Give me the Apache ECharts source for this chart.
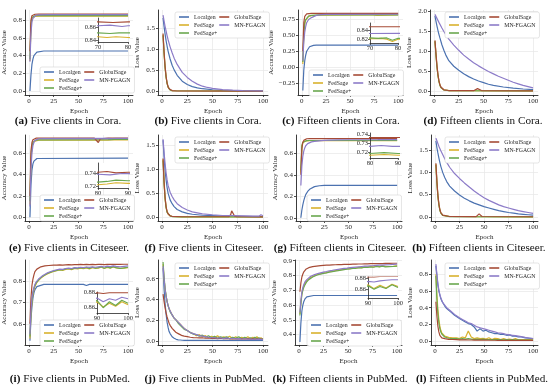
<!DOCTYPE html>
<html><head><meta charset="utf-8">
<script src="https://cdn.jsdelivr.net/npm/echarts@6/dist/echarts.min.js"></script>
<style>html,body{margin:0;padding:0;background:#fff}#c{width:550px;height:385px}</style>
</head><body><div id="c"></div>
<script>
const NAMES = ['Localgen','FedSage','FedSage+','GlobalSage','MN-FGAGN'];
const X_TICKS = [0,25,50,75,100];
const CAPTIONS = [
 ['(a)','Five clients in Cora.'],['(b)','Five clients in Cora.'],['(c)','Fifteen clients in Cora.'],['(d)','Fifteen clients in Cora.'],
 ['(e)','Five clients in Citeseer.'],['(f)','Five clients in Citeseer.'],['(g)','Fifteen clients in Citeseer.'],['(h)','Fifteen clients in Citeseer.'],
 ['(i)','Five clients in PubMed.'],['(j)','Five clients in PubMed.'],['(k)','Fifteen clients in PubMed.'],['(l)','Fifteen clients in PubMed.']
];
const Y_TICKS = {
 a:[0,0.2,0.4,0.6,0.8], b:[0,0.5,1.0,1.5], c:[-0.25,0,0.25,0.5,0.75], d:[0,0.5,1.0,1.5,2.0],
 e:[0,0.2,0.4,0.6], f:[0,0.5,1.0,1.5], g:[0,0.2,0.4,0.6], h:[0,0.5,1.0,1.5],
 i:[0.6,0.7,0.8], j:[0,0.2,0.4,0.6], k:[0.4,0.5,0.6,0.7,0.8,0.9], l:[0,0.2,0.4,0.6,0.8]
};
const INSET_TICKS = {
 a:{x:[70,80], y:[0.84,0.86]}, c:{x:[70,80], y:[0.82,0.84]}, e:{x:[80,90], y:[0.72,0.74]},
 g:{x:[80,90], y:[0.72,0.73,0.74]}, i:{x:[90,100], y:[0.86,0.88]}, k:{x:[90,100], y:[0.86,0.88]}
};

// ---- (a) Five clients in Cora, accuracy ----
const a_Localgen = [[1,0.0],[2,0.18],[3,0.3],[4,0.36],[5,0.4],[6,0.42],[8,0.44],[10,0.448],[15,0.452],[100,0.452]];
const a_FedSage = [[1,0.34],[2,0.72],[3,0.82],[4,0.838],[6,0.844],[10,0.846],[70,0.846],[73,0.845],[76,0.846],[80,0.845],[100,0.846]];
const a_FedSagePlus = [[1,0.36],[2,0.75],[3,0.83],[4,0.845],[6,0.85],[10,0.852],[70,0.852],[74,0.851],[77,0.852],[80,0.852],[100,0.852]];
const a_GlobalSage = [[1,0.45],[2,0.8],[3,0.85],[4,0.862],[6,0.867],[10,0.869],[70,0.869],[75,0.868],[80,0.869],[100,0.869]];
const a_MNFGAGN = [[1,0.33],[2,0.65],[3,0.78],[4,0.82],[5,0.84],[7,0.855],[10,0.861],[20,0.863],[70,0.863],[74,0.864],[78,0.862],[80,0.863],[100,0.863]];
// ---- (b) Five clients in Cora, loss ----
const b_Localgen = [[1,1.75],[2,1.55],[3,1.37],[4,1.21],[5,1.08],[6,0.96],[8,0.77],[10,0.62],[12,0.51],[15,0.38],[20,0.24],[25,0.16],[30,0.11],[35,0.08],[40,0.06],[50,0.035],[60,0.02],[80,0.01],[100,0.005]];
const b_FedSage = [[1,1.35],[2,0.92],[3,0.58],[4,0.34],[5,0.19],[6,0.1],[8,0.03],[10,0.012],[100,0.001]];
const b_FedSagePlus = [[1,1.33],[2,0.9],[3,0.56],[4,0.33],[5,0.18],[6,0.1],[8,0.03],[10,0.012],[100,0.001]];
const b_GlobalSage = [[1,1.38],[2,0.95],[3,0.6],[4,0.36],[5,0.2],[6,0.11],[7,0.06],[8,0.035],[10,0.015],[15,0.005],[100,0.001]];
const b_MNFGAGN = [[1,1.82],[2,1.68],[3,1.55],[4,1.44],[5,1.33],[6,1.23],[8,1.06],[10,0.92],[12,0.79],[15,0.64],[20,0.45],[25,0.33],[30,0.24],[35,0.17],[40,0.12],[45,0.09],[50,0.07],[60,0.04],[70,0.025],[80,0.015],[100,0.008]];
// ---- (c) Fifteen clients in Cora, accuracy ----
const c_Localgen = [[1,-0.37],[2,-0.05],[3,0.1],[4,0.19],[5,0.25],[6,0.28],[8,0.32],[10,0.335],[12,0.342],[15,0.345],[100,0.346]];
const c_FedSage = [[1,0.05],[2,0.5],[3,0.68],[4,0.74],[5,0.77],[7,0.8],[10,0.81],[15,0.817],[20,0.82],[70,0.821],[74,0.822],[76,0.82],[78,0.815],[80,0.82],[100,0.821]];
const c_FedSagePlus = [[1,0.08],[2,0.52],[3,0.7],[4,0.75],[5,0.78],[7,0.805],[10,0.815],[15,0.82],[20,0.822],[70,0.823],[73,0.822],[76,0.823],[78,0.818],[80,0.822],[100,0.823]];
const c_GlobalSage = [[1,0.25],[2,0.7],[3,0.8],[4,0.83],[5,0.84],[7,0.845],[10,0.847],[100,0.847]];
const c_MNFGAGN = [[1,0.1],[2,0.4],[3,0.55],[4,0.64],[5,0.7],[6,0.73],[7,0.75],[10,0.78],[12,0.8],[15,0.815],[20,0.826],[25,0.83],[30,0.832],[100,0.833]];
// ---- (d) Fifteen clients in Cora, loss ----
const d_Localgen = [[1,1.88],[2,1.75],[3,1.63],[4,1.52],[5,1.42],[6,1.33],[8,1.16],[10,1.02],[12,0.9],[15,0.76],[20,0.62],[25,0.52],[30,0.43],[35,0.36],[40,0.3],[45,0.25],[50,0.21],[55,0.17],[60,0.14],[70,0.1],[80,0.07],[90,0.05],[100,0.035]];
const d_FedSage = [[1,1.25],[2,0.92],[3,0.62],[4,0.4],[5,0.25],[6,0.15],[7,0.09],[8,0.055],[10,0.028],[12,0.018],[15,0.011],[20,0.009],[100,0.004]];
const d_FedSagePlus = [[1,1.24],[2,0.9],[3,0.6],[4,0.39],[5,0.24],[6,0.14],[7,0.085],[8,0.05],[10,0.026],[12,0.017],[15,0.01],[20,0.008],[100,0.004]];
const d_GlobalSage = [[1,1.27],[2,0.95],[3,0.65],[4,0.42],[5,0.26],[6,0.16],[7,0.1],[8,0.06],[10,0.03],[12,0.02],[15,0.012],[20,0.01],[40,0.008],[42,0.012],[44,0.06],[45,0.07],[46,0.05],[48,0.012],[50,0.008],[100,0.005]];
const d_MNFGAGN = [[1,1.92],[2,1.87],[3,1.82],[4,1.77],[5,1.72],[6,1.67],[8,1.58],[10,1.49],[12,1.41],[15,1.3],[20,1.15],[25,1.02],[30,0.9],[35,0.8],[40,0.71],[45,0.63],[50,0.56],[55,0.49],[60,0.43],[65,0.37],[70,0.32],[75,0.27],[80,0.22],[85,0.18],[90,0.14],[95,0.11],[100,0.08]];
// ---- (e) Five clients in Citeseer, accuracy ----
const e_Localgen = [[1,0.0],[2,0.3],[3,0.44],[4,0.5],[5,0.525],[6,0.54],[8,0.55],[10,0.553],[100,0.553]];
const e_FedSage = [[1,0.12],[2,0.52],[3,0.65],[4,0.69],[5,0.71],[7,0.718],[10,0.722],[80,0.722],[83,0.723],[86,0.725],[90,0.724],[100,0.724]];
const e_FedSagePlus = [[1,0.15],[2,0.55],[3,0.66],[4,0.7],[5,0.715],[7,0.722],[10,0.725],[80,0.726],[83,0.727],[86,0.729],[90,0.728],[100,0.728]];
const e_GlobalSage = [[1,0.2],[2,0.62],[3,0.7],[4,0.725],[5,0.735],[7,0.74],[10,0.741],[66,0.741],[68,0.735],[70,0.7],[72,0.735],[74,0.741],[80,0.741],[83,0.742],[86,0.74],[90,0.741],[100,0.741]];
const e_MNFGAGN = [[1,0.1],[2,0.45],[3,0.6],[4,0.67],[5,0.7],[6,0.72],[8,0.73],[10,0.735],[15,0.737],[80,0.738],[84,0.737],[88,0.739],[100,0.738]];
// ---- (f) Five clients in Citeseer, loss ----
const f_Localgen = [[1,1.6],[2,1.25],[3,0.98],[4,0.78],[5,0.62],[6,0.5],[8,0.36],[10,0.28],[12,0.22],[15,0.16],[20,0.11],[25,0.08],[30,0.06],[40,0.04],[50,0.03],[60,0.02],[80,0.015],[100,0.01]];
const f_FedSage = [[1,1.2],[2,0.72],[3,0.4],[4,0.21],[5,0.11],[6,0.065],[8,0.028],[10,0.014],[20,0.007],[100,0.005]];
const f_FedSagePlus = [[1,1.18],[2,0.7],[3,0.38],[4,0.2],[5,0.1],[6,0.06],[8,0.025],[10,0.013],[20,0.007],[100,0.005]];
const f_GlobalSage = [[1,1.22],[2,0.75],[3,0.42],[4,0.22],[5,0.12],[6,0.07],[8,0.03],[10,0.015],[20,0.008],[66,0.008],[68,0.05],[69,0.13],[70,0.09],[72,0.02],[74,0.008],[100,0.006]];
const f_MNFGAGN = [[1,1.62],[2,1.35],[3,1.12],[4,0.93],[5,0.78],[6,0.66],[8,0.52],[10,0.43],[12,0.36],[15,0.28],[20,0.2],[25,0.15],[30,0.11],[35,0.09],[40,0.07],[50,0.05],[60,0.035],[70,0.03],[80,0.025],[90,0.02],[96,0.02],[98,0.05],[100,0.03]];
// ---- (g) Fifteen clients in Citeseer, accuracy ----
const g_Localgen = [[1,0.0],[2,0.07],[3,0.12],[4,0.16],[5,0.19],[6,0.215],[8,0.245],[10,0.265],[12,0.278],[15,0.29],[20,0.298],[25,0.301],[100,0.302]];
const g_FedSage = [[1,0.42],[2,0.66],[3,0.7],[4,0.71],[5,0.714],[7,0.716],[10,0.717],[80,0.717],[85,0.718],[90,0.717],[100,0.717]];
const g_FedSagePlus = [[1,0.44],[2,0.67],[3,0.703],[4,0.712],[5,0.716],[7,0.718],[10,0.719],[80,0.719],[85,0.72],[90,0.719],[100,0.719]];
const g_GlobalSage = [[1,0.4],[2,0.64],[3,0.7],[4,0.72],[5,0.73],[7,0.735],[10,0.737],[42,0.737],[44,0.728],[46,0.737],[100,0.737]];
const g_MNFGAGN = [[1,0.3],[2,0.48],[3,0.57],[4,0.62],[5,0.65],[6,0.67],[8,0.69],[10,0.7],[12,0.706],[15,0.711],[20,0.716],[25,0.72],[30,0.723],[40,0.725],[50,0.726],[80,0.727],[84,0.728],[88,0.727],[100,0.727]];
// ---- (h) Fifteen clients in Citeseer, loss ----
const h_Localgen = [[1,1.7],[2,1.55],[3,1.43],[4,1.32],[5,1.22],[6,1.13],[8,0.99],[10,0.88],[12,0.79],[15,0.69],[20,0.58],[25,0.49],[30,0.42],[35,0.36],[40,0.31],[45,0.27],[50,0.23],[55,0.2],[60,0.17],[65,0.14],[70,0.12],[75,0.1],[80,0.085],[85,0.07],[90,0.06],[95,0.05],[100,0.04]];
const h_FedSage = [[1,1.18],[2,0.78],[3,0.48],[4,0.28],[5,0.16],[6,0.09],[7,0.055],[8,0.035],[10,0.018],[15,0.01],[100,0.004]];
const h_FedSagePlus = [[1,1.16],[2,0.76],[3,0.46],[4,0.27],[5,0.15],[6,0.085],[7,0.05],[8,0.033],[10,0.017],[15,0.009],[100,0.004]];
const h_GlobalSage = [[1,1.2],[2,0.8],[3,0.5],[4,0.3],[5,0.17],[6,0.1],[7,0.06],[8,0.04],[10,0.02],[15,0.01],[42,0.008],[44,0.05],[45,0.07],[46,0.05],[48,0.01],[100,0.005]];
const h_MNFGAGN = [[1,1.76],[2,1.7],[3,1.64],[4,1.58],[5,1.53],[6,1.48],[8,1.39],[10,1.3],[12,1.22],[15,1.11],[20,0.97],[25,0.86],[30,0.76],[35,0.67],[40,0.58],[45,0.5],[50,0.43],[55,0.37],[60,0.32],[65,0.27],[70,0.23],[75,0.2],[80,0.17],[85,0.14],[90,0.12],[95,0.1],[100,0.08]];
// ---- PubMed rows: shared epoch samples ----
const PUBMED_EPOCHS = [1,2,3,4,5,6,7,8,10,12,14,16,18,20,22,25,28,31,34,37,40,43,46,49,52,55,58,61,64,67,70,73,76,79,82,85,88,90,92,94,96,98,100];
// ---- (i) Five clients in PubMed, accuracy ----
const i_Localgen = [[1,0.52],[2,0.62],[3,0.68],[4,0.72],[5,0.745],[6,0.76],[8,0.775],[10,0.782],[15,0.785],[55,0.785],[58,0.78],[61,0.785],[100,0.785]];
const i_FedSage = [0.53,0.64,0.7,0.74,0.76,0.775,0.785,0.795,0.805,0.815,0.822,0.828,0.832,0.838,0.842,0.846,0.85,0.853,0.851,0.856,0.858,0.855,0.86,0.858,0.862,0.859,0.863,0.858,0.864,0.861,0.862,0.866,0.86,0.865,0.862,0.867,0.863,0.868,0.861,0.866,0.862,0.868,0.864];
const i_FedSagePlus = [0.54,0.65,0.71,0.745,0.765,0.78,0.79,0.798,0.808,0.817,0.824,0.83,0.835,0.84,0.843,0.848,0.851,0.855,0.853,0.858,0.86,0.857,0.862,0.86,0.864,0.861,0.865,0.86,0.866,0.862,0.864,0.868,0.861,0.867,0.863,0.869,0.864,0.87,0.86,0.868,0.863,0.87,0.866];
const i_GlobalSage = [0.6,0.72,0.78,0.81,0.83,0.845,0.852,0.857,0.864,0.868,0.87,0.872,0.873,0.874,0.875,0.876,0.876,0.877,0.876,0.877,0.878,0.877,0.878,0.878,0.879,0.878,0.879,0.878,0.879,0.878,0.879,0.879,0.878,0.879,0.879,0.88,0.879,0.88,0.879,0.88,0.88,0.88,0.88];
const i_MNFGAGN = [0.55,0.66,0.72,0.75,0.77,0.785,0.795,0.802,0.812,0.82,0.827,0.833,0.838,0.842,0.846,0.85,0.854,0.857,0.856,0.86,0.862,0.86,0.864,0.863,0.866,0.864,0.867,0.865,0.868,0.866,0.868,0.87,0.867,0.871,0.869,0.872,0.87,0.873,0.868,0.872,0.87,0.874,0.872];
// ---- (j) Five clients in PubMed, loss ----
const j_Localgen = [0.7,0.5,0.36,0.26,0.18,0.13,0.09,0.07,0.04,0.025,0.015,0.01,0.008,0.006,0.005,0.005,0.004,0.004,0.004,0.004,0.004,0.004,0.004,0.004,0.004,0.004,0.004,0.004,0.004,0.004,0.004,0.004,0.004,0.004,0.004,0.004,0.004,0.004,0.004,0.004,0.004,0.004,0.004];
const j_FedSage = [0.74,0.6,0.5,0.43,0.38,0.34,0.31,0.29,0.25,0.22,0.2,0.18,0.16,0.14,0.12,0.1,0.08,0.07,0.05,0.06,0.04,0.05,0.03,0.045,0.03,0.05,0.025,0.04,0.03,0.045,0.02,0.04,0.025,0.035,0.02,0.04,0.02,0.035,0.02,0.04,0.02,0.03,0.015];
const j_FedSagePlus = [0.76,0.62,0.51,0.44,0.38,0.34,0.31,0.28,0.25,0.22,0.2,0.17,0.15,0.13,0.11,0.1,0.08,0.065,0.06,0.045,0.055,0.035,0.05,0.03,0.045,0.025,0.04,0.03,0.04,0.02,0.035,0.025,0.04,0.02,0.035,0.02,0.03,0.02,0.035,0.02,0.03,0.015,0.02];
const j_GlobalSage = [0.45,0.38,0.32,0.27,0.23,0.2,0.17,0.15,0.12,0.1,0.08,0.07,0.06,0.05,0.045,0.04,0.035,0.032,0.03,0.028,0.03,0.025,0.028,0.024,0.026,0.022,0.025,0.02,0.024,0.02,0.022,0.02,0.018,0.02,0.018,0.02,0.017,0.019,0.016,0.018,0.016,0.017,0.015];
const j_MNFGAGN = [0.72,0.6,0.5,0.43,0.38,0.34,0.31,0.29,0.25,0.22,0.2,0.18,0.16,0.14,0.12,0.1,0.08,0.07,0.06,0.05,0.045,0.04,0.035,0.03,0.03,0.025,0.03,0.022,0.028,0.02,0.025,0.02,0.022,0.018,0.02,0.016,0.018,0.015,0.018,0.014,0.016,0.015,0.012];
// ---- (k) Fifteen clients in PubMed, accuracy ----
const k_Localgen = [[1,0.35],[2,0.48],[3,0.56],[4,0.6],[5,0.625],[6,0.64],[8,0.655],[10,0.662],[15,0.665],[100,0.665]];
const k_FedSage = [0.54,0.62,0.68,0.71,0.73,0.745,0.755,0.765,0.778,0.788,0.795,0.8,0.806,0.81,0.812,0.818,0.82,0.826,0.828,0.834,0.835,0.84,0.842,0.846,0.847,0.851,0.85,0.855,0.854,0.858,0.857,0.861,0.858,0.863,0.86,0.866,0.862,0.868,0.861,0.867,0.862,0.869,0.865];
const k_FedSagePlus = [0.53,0.61,0.67,0.7,0.72,0.735,0.748,0.758,0.772,0.783,0.79,0.797,0.802,0.807,0.81,0.815,0.818,0.823,0.826,0.83,0.833,0.837,0.84,0.843,0.845,0.848,0.849,0.852,0.852,0.856,0.855,0.859,0.856,0.861,0.858,0.864,0.859,0.866,0.86,0.865,0.861,0.868,0.863];
const k_GlobalSage = [0.69,0.75,0.79,0.81,0.825,0.835,0.842,0.847,0.853,0.857,0.86,0.862,0.864,0.866,0.867,0.869,0.87,0.871,0.872,0.873,0.874,0.874,0.875,0.876,0.876,0.877,0.877,0.878,0.878,0.879,0.879,0.88,0.88,0.88,0.881,0.881,0.882,0.882,0.882,0.883,0.883,0.883,0.883];
const k_MNFGAGN = [0.55,0.63,0.69,0.72,0.74,0.755,0.765,0.772,0.785,0.795,0.8,0.806,0.81,0.815,0.818,0.823,0.827,0.832,0.835,0.839,0.842,0.845,0.848,0.85,0.853,0.855,0.857,0.859,0.861,0.863,0.864,0.866,0.867,0.869,0.87,0.871,0.872,0.874,0.873,0.875,0.876,0.877,0.877];
// ---- (l) Fifteen clients in PubMed, loss ----
const l_Localgen = [0.9,0.78,0.67,0.6,0.55,0.51,0.48,0.46,0.42,0.39,0.37,0.35,0.33,0.31,0.3,0.27,0.25,0.23,0.21,0.2,0.17,0.12,0.15,0.12,0.13,0.11,0.1,0.09,0.09,0.08,0.08,0.07,0.075,0.06,0.06,0.05,0.05,0.045,0.04,0.04,0.035,0.03,0.03];
const l_FedSage = [0.8,0.55,0.38,0.26,0.18,0.13,0.1,0.08,0.06,0.05,0.045,0.04,0.04,0.035,0.04,0.03,0.05,0.04,0.12,0.05,0.03,0.04,0.03,0.035,0.025,0.04,0.02,0.035,0.03,0.02,0.03,0.02,0.025,0.02,0.03,0.015,0.02,0.015,0.02,0.015,0.02,0.015,0.015];
const l_FedSagePlus = [0.78,0.5,0.33,0.22,0.15,0.11,0.085,0.07,0.05,0.04,0.035,0.03,0.03,0.028,0.03,0.025,0.03,0.025,0.03,0.025,0.02,0.025,0.02,0.025,0.02,0.02,0.018,0.02,0.018,0.02,0.015,0.018,0.015,0.018,0.015,0.015,0.014,0.015,0.013,0.014,0.013,0.013,0.012];
const l_GlobalSage = [0.47,0.3,0.18,0.11,0.07,0.05,0.04,0.035,0.03,0.025,0.022,0.02,0.02,0.018,0.018,0.016,0.015,0.015,0.014,0.014,0.013,0.013,0.012,0.012,0.012,0.011,0.011,0.011,0.01,0.01,0.01,0.01,0.01,0.01,0.01,0.01,0.01,0.01,0.01,0.01,0.01,0.01,0.01];
const l_MNFGAGN = [0.92,0.8,0.69,0.61,0.56,0.52,0.49,0.46,0.43,0.4,0.38,0.36,0.34,0.32,0.31,0.28,0.26,0.24,0.22,0.21,0.19,0.17,0.16,0.15,0.14,0.13,0.12,0.11,0.1,0.095,0.09,0.08,0.075,0.07,0.065,0.06,0.055,0.05,0.045,0.04,0.038,0.035,0.03];

function withEpochs(vals){ const n=Math.min(vals.length, PUBMED_EPOCHS.length); const o=[]; for(let k=0;k<n;k++) o.push([PUBMED_EPOCHS[k], vals[k]]); return o; }
const P = (s)=>Array.isArray(s[0]) ? s : withEpochs(s);
const DATA = {
 a:[a_Localgen,a_FedSage,a_FedSagePlus,a_GlobalSage,a_MNFGAGN],
 b:[b_Localgen,b_FedSage,b_FedSagePlus,b_GlobalSage,b_MNFGAGN],
 c:[c_Localgen,c_FedSage,c_FedSagePlus,c_GlobalSage,c_MNFGAGN],
 d:[d_Localgen,d_FedSage,d_FedSagePlus,d_GlobalSage,d_MNFGAGN],
 e:[e_Localgen,e_FedSage,e_FedSagePlus,e_GlobalSage,e_MNFGAGN],
 f:[f_Localgen,f_FedSage,f_FedSagePlus,f_GlobalSage,f_MNFGAGN],
 g:[g_Localgen,g_FedSage,g_FedSagePlus,g_GlobalSage,g_MNFGAGN],
 h:[h_Localgen,h_FedSage,h_FedSagePlus,h_GlobalSage,h_MNFGAGN],
 i:[i_Localgen,i_FedSage,i_FedSagePlus,i_GlobalSage,i_MNFGAGN],
 j:[j_Localgen,j_FedSage,j_FedSagePlus,j_GlobalSage,j_MNFGAGN],
 k:[k_Localgen,k_FedSage,k_FedSagePlus,k_GlobalSage,k_MNFGAGN],
 l:[l_Localgen,l_FedSage,l_FedSagePlus,l_GlobalSage,l_MNFGAGN]
};

// ---- layout (positions / styles) ----
const COLORS = ['#4c72b0','#d9b22e','#6aa84f','#a64b36','#8c7bc8'];
const F = '"Liberation Serif", "DejaVu Serif", serif';
const LAYOUT = [
 {k:'a', g:[23,10,110,85], y:[-0.045,0.915], dec:1, ng:11, leg:[40,67], cap:[68,121], inset:{r:[98,18,30,24], x:[70,80], y:[0.838,0.875]}},
 {k:'b', g:[158,10,110,85], y:[-0.09,1.94], dec:1, ng:11, leg:[175,12], cap:[208,121]},
 {k:'c', g:[298,10,105,85], y:[-0.44,0.9], dec:2, ng:14, leg:[309,70], cap:[341,121], inset:{r:[370,23,28,20], x:[70,80], y:[0.812,0.855]}},
 {k:'d', g:[430,10,108,85], y:[-0.1,2.03], dec:1, ng:11, leg:[445,12], cap:[483,121]},
 {k:'e', g:[23,135,110,86], y:[-0.035,0.77], dec:1, ng:11, leg:[40,195], cap:[69,248], inset:{r:[98,163,30,25], x:[80,90], y:[0.717,0.755]}},
 {k:'f', g:[158,135,110,86], y:[-0.08,1.71], dec:1, ng:11, leg:[175,137], cap:[204,248]},
 {k:'g', g:[296,135,106,86], y:[-0.03,0.77], dec:1, ng:11, leg:[307,195], cap:[340,248], inset:{r:[370,133,28,25], x:[80,90], y:[0.714,0.742]}},
 {k:'h', g:[431,135,107,86], y:[-0.09,1.83], dec:1, ng:11, leg:[445,137], cap:[479,248]},
 {k:'i', g:[22,260,111,85], y:[0.5,0.9], dec:1, ng:11, leg:[40,320], cap:[70,379], inset:{r:[97,292,31,21], x:[90,100], y:[0.853,0.881]}},
 {k:'j', g:[158,260,110,85], y:[-0.04,0.78], dec:1, ng:11, leg:[175,263], cap:[205,379]},
 {k:'k', g:[295,260,107,85], y:[0.33,0.905], dec:1, ng:11, leg:[307,320], cap:[340,379], inset:{r:[368,277,30,21], x:[90,100], y:[0.844,0.882]}},
 {k:'l', g:[431,260,107,85], y:[-0.046,0.97], dec:1, ng:11, leg:[445,263], cap:[482,379]}
];
const AX = '#262626';
function fmt(v, d){ const s = Number(v).toFixed(d); return s.charAt(0)==='-' ? '\u2212'+s.slice(1) : s; }

const option = {animation:false, backgroundColor:'#fff', grid:[], xAxis:[], yAxis:[], series:[], legend:[], graphic:[]};
LAYOUT.forEach((p, idx) => {
 const gi = option.grid.length;
 option.grid.push({left:p.g[0], top:p.g[1], width:p.g[2], height:p.g[3], show:false});
 option.xAxis.push({gridIndex:gi, type:'value', min:-4, max:105, name:'Epoch', nameLocation:'middle', nameGap:13,
  nameTextStyle:{fontFamily:F, fontSize:7, color:AX},
  axisLine:{show:true, onZero:false, lineStyle:{color:AX, width:0.9}},
  axisTick:{show:true, length:2, customValues:X_TICKS, lineStyle:{color:AX, width:0.8}},
  axisLabel:{customValues:X_TICKS, fontFamily:F, fontSize:7, color:AX, margin:3},
  splitLine:{show:true, lineStyle:{color:'#e6e6e6', width:0.7}}});
 option.yAxis.push({gridIndex:gi, type:'value', min:p.y[0], max:p.y[1],
  name: (['a','c','e','g','i','k'].includes(p.k) ? 'Accuracy Value' : 'Loss Value'), nameLocation:'middle', nameGap:p.ng+6,
  nameTextStyle:{fontFamily:F, fontSize:7, color:AX},
  axisLine:{show:true, onZero:false, lineStyle:{color:AX, width:0.9}},
  axisTick:{show:true, length:2, customValues:Y_TICKS[p.k], lineStyle:{color:AX, width:0.8}},
  axisLabel:{customValues:Y_TICKS[p.k], fontFamily:F, fontSize:7, color:AX, margin:3, formatter:(v)=>fmt(v,p.dec)},
  splitLine:{show:true, lineStyle:{color:'#e6e6e6', width:0.7}}});
 DATA[p.k].forEach((s, si) => option.series.push({type:'line', name:NAMES[si], xAxisIndex:gi, yAxisIndex:gi, data:P(s),
  symbol:'none', z:2, lineStyle:{width:1.2, color:COLORS[si]}, itemStyle:{color:COLORS[si]}}));
 option.legend.push({type:'plain', orient:'vertical', left:p.leg[0], top:p.leg[1], height:27, itemWidth:10, itemHeight:1.6, itemGap:2,
  icon:'rect', padding:[2,4,2,4], backgroundColor:'#fff', borderColor:'#d4d4d4', borderWidth:0.6, borderRadius:2, selectedMode:false,
  textStyle:{fontFamily:F, fontSize:5.8, color:AX}, data:NAMES, z:5});
 if (p.inset) {
  const r = p.inset.r, t = INSET_TICKS[p.k], ii = option.grid.length;
  option.graphic.push({type:'rect', shape:{x:r[0], y:r[1], width:r[2], height:r[3]}, style:{fill:'#fff'}, z:1, silent:true});
  option.grid.push({left:r[0], top:r[1], width:r[2], height:r[3], show:false});
  option.xAxis.push({gridIndex:ii, type:'value', min:p.inset.x[0], max:p.inset.x[1], z:3,
   axisLine:{show:true, onZero:false, lineStyle:{color:AX, width:0.8}},
   axisTick:{show:true, length:2, customValues:t.x, lineStyle:{color:AX, width:0.7}},
   axisLabel:{customValues:t.x, fontFamily:F, fontSize:6.5, color:AX, margin:2},
   splitLine:{show:false}});
  option.yAxis.push({gridIndex:ii, type:'value', min:p.inset.y[0], max:p.inset.y[1], z:3,
   axisLine:{show:true, onZero:false, lineStyle:{color:AX, width:0.8}},
   axisTick:{show:true, length:2, customValues:t.y, lineStyle:{color:AX, width:0.7}},
   axisLabel:{customValues:t.y, fontFamily:F, fontSize:6.5, color:AX, margin:2, formatter:(v)=>fmt(v,2)},
   splitLine:{show:false}});
  DATA[p.k].forEach((s, si) => option.series.push({type:'line', name:NAMES[si], xAxisIndex:ii, yAxisIndex:ii, data:P(s),
   symbol:'none', z:3, clip:true, lineStyle:{width:1.1, color:COLORS[si]}, itemStyle:{color:COLORS[si]}}));
 }
 const c = CAPTIONS[idx];
 option.graphic.push({type:'text', x:p.cap[0], y:p.cap[1], z:10, silent:true,
  style:{text:'{b|'+c[0]+'} '+c[1], rich:{b:{fontWeight:'bold', fontFamily:F, fontSize:11.2, fill:'#111'}},
   fontFamily:F, fontSize:11.2, fill:'#111', align:'center', verticalAlign:'middle', textAlign:'center', textVerticalAlign:'middle'}});
});
const chart = echarts.init(document.getElementById('c'), null, {renderer:'canvas'});
chart.setOption(option);
</script></body></html>
